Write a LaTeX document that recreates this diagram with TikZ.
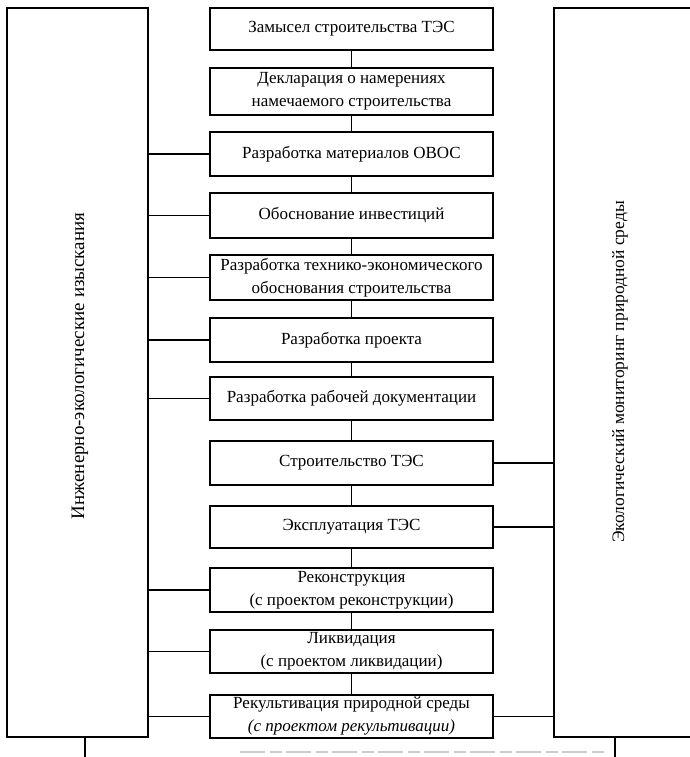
\documentclass[tikz,border=0pt]{standalone}
\usepackage{fontspec}
\setmainfont{Liberation Serif}
\begin{document}
\begin{tikzpicture}[x=1pt,y=-1pt,line width=1.6pt,
  stagebox/.style={draw,minimum width=283pt,align=center,inner sep=0pt,
    font=\fontsize{17}{23}\selectfont},
  sidebox/.style={draw,minimum width=141pt,minimum height=729pt,inner sep=0pt},
  sidetext/.style={rotate=90,font=\fontsize{17.5}{20}\selectfont},
  link/.style={line width=1.6pt}]
\useasboundingbox (0,0) rectangle (690,757);
% side boxes
\node[sidebox] (L) at (77.5,372.5) {};
\node[sidebox,minimum width=170pt] (R) at (639,372.5) {};
\node[sidetext,font=\fontsize{19}{22}\selectfont] (Lt) at (80,366) {Инженерно-экологические изыскания};
\node[sidetext] (Rt) at (620,372) {Экологический мониторинг природной среды};
% stage boxes
\node[stagebox,minimum height=42pt] (b1) at (351.5,29) {Замысел строительства ТЭС};
\node[stagebox,minimum height=47pt] (b2) at (351.5,91.5) {Декларация о намерениях\\намечаемого строительства};
\node[stagebox,minimum height=44pt] (b3) at (351.5,154) {Разработка материалов ОВОС};
\node[stagebox,minimum height=45pt] (b4) at (351.5,215.5) {Обоснование инвестиций};
\node[stagebox,minimum height=45pt] (b5) at (351.5,277.5) {Разработка технико-экономического\\обоснования строительства};
\node[stagebox,minimum height=44pt] (b6) at (351.5,340) {Разработка проекта};
\node[stagebox,minimum height=43pt] (b7) at (351.5,398.5) {Разработка рабочей документации};
\node[stagebox,minimum height=44pt] (b8) at (351.5,463) {Строительство ТЭС};
\node[stagebox,minimum height=42pt] (b9) at (351.5,527) {Эксплуатация ТЭС};
\node[stagebox,minimum height=44pt] (b10) at (351.5,590) {Реконструкция\\(с проектом реконструкции)};
\node[stagebox,minimum height=43pt] (b11) at (351.5,651.5) {Ликвидация\\(с проектом ликвидации)};
\node[stagebox,minimum height=43pt] (b12) at (351.5,716.5) {Рекультивация природной среды\\\itshape(с проектом рекультивации)};
% vertical chain
\foreach \a/\b in {b1/b2,b2/b3,b3/b4,b4/b5,b5/b6,b6/b7,b7/b8,b8/b9,b9/b10,b10/b11,b11/b12}
  \draw[link] (\a.south) -- (\b.north);
% left links
\foreach \n in {b3,b4,b5,b6,b7,b10,b11,b12}
  \draw[link] (L.east |- \n.west) -- (\n.west);
% right links
\foreach \n in {b8,b9,b12}
  \draw[link] (\n.east) -- (R.west |- \n.east);
% bottom stubs
\coordinate (lb) at (85,757);
\coordinate (rb) at (615,757);
\draw[link] (L.south -| lb) -- (lb);
\draw[link] (R.south -| rb) -- (rb);
\draw[gray!40,line width=1.2pt,dash pattern=on 25pt off 5pt on 12pt off 4pt] (240,752) -- (606,752);
\end{tikzpicture}
\end{document}
